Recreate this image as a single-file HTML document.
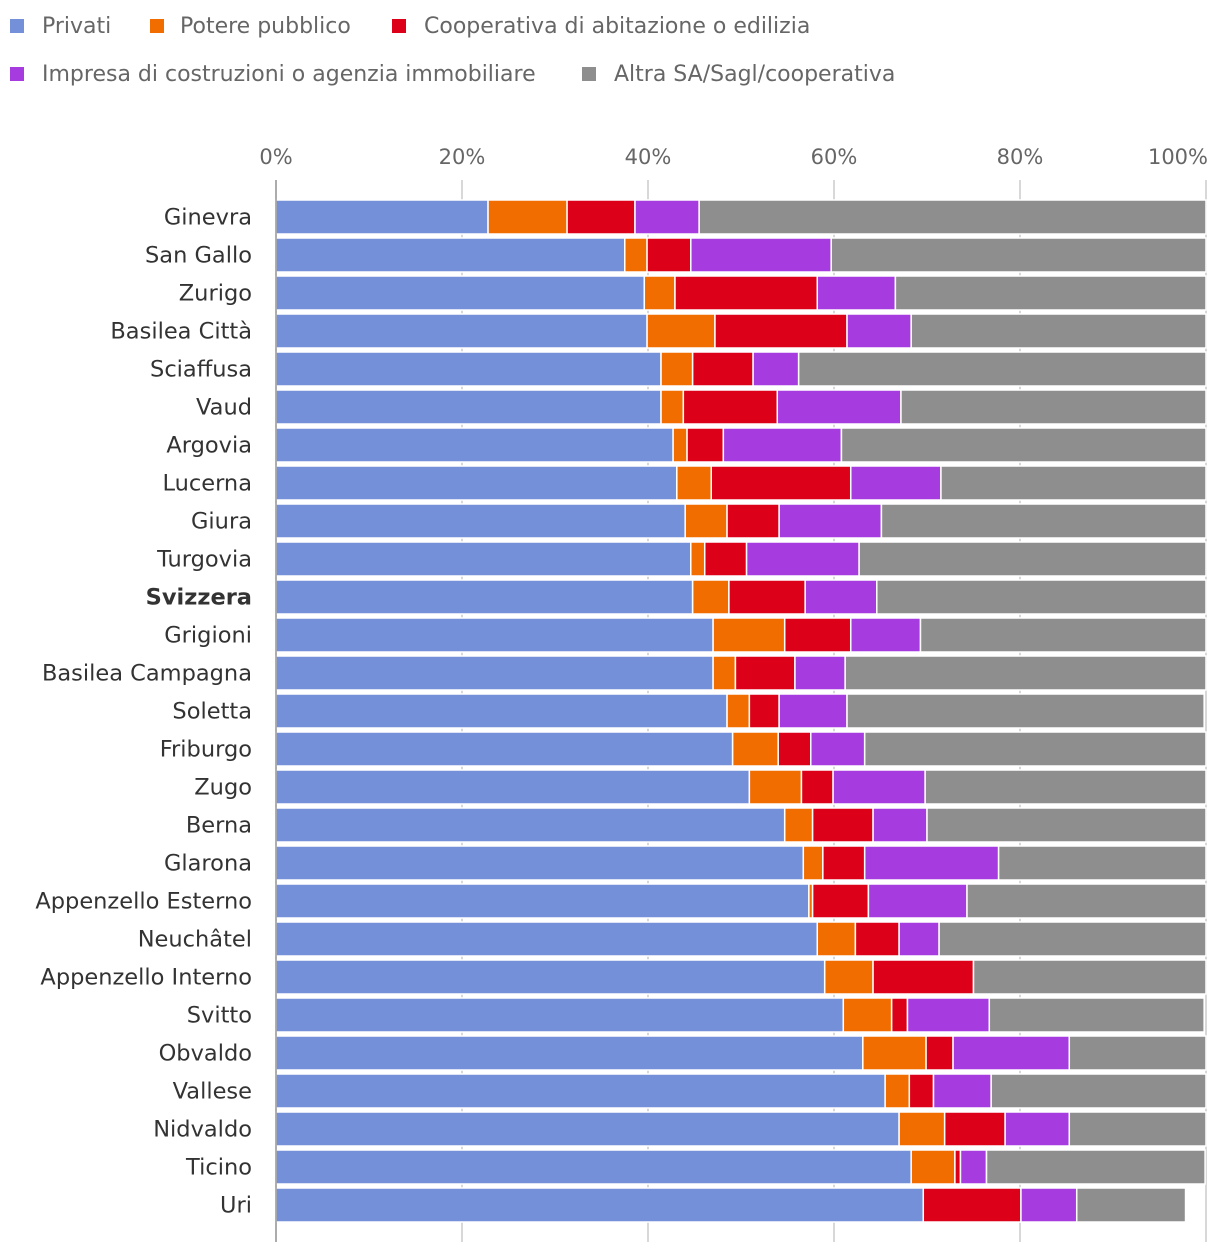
<!DOCTYPE html>
<html><head><meta charset="utf-8"><style>
body{margin:0;background:#fff;}
svg text{font-family:"DejaVu Sans",sans-serif;}
</style></head><body>
<svg id="chart" width="1220" height="1254" xmlns="http://www.w3.org/2000/svg"></svg>
<script>
const categories=["Ginevra","San Gallo","Zurigo","Basilea Città","Sciaffusa","Vaud","Argovia","Lucerna","Giura","Turgovia","Svizzera","Grigioni","Basilea Campagna","Soletta","Friburgo","Zugo","Berna","Glarona","Appenzello Esterno","Neuchâtel","Appenzello Interno","Svitto","Obvaldo","Vallese","Nidvaldo","Ticino","Uri"];
const seriesNames=["Privati","Potere pubblico","Cooperativa di abitazione o edilizia","Impresa di costruzioni o agenzia immobiliare","Altra SA/Sagl/cooperativa"];
const privati=[22.8,37.5,39.6,39.9,41.4,41.4,42.7,43.1,44.0,44.6,44.8,47.0,47.0,48.5,49.1,50.9,54.7,56.7,57.3,58.2,59.0,61.0,63.1,65.5,67.0,68.3,69.6];
const pubblico=[8.5,2.4,3.3,7.3,3.4,2.4,1.5,3.7,4.5,1.5,3.9,7.7,2.4,2.4,4.9,5.6,3.0,2.1,0.4,4.1,5.2,5.2,6.8,2.6,4.9,4.7,0];
const cooperativa=[7.3,4.7,15.3,14.2,6.5,10.1,3.9,15.0,5.6,4.5,8.2,7.1,6.4,3.2,3.5,3.4,6.5,4.5,6.0,4.7,10.8,1.7,2.9,2.6,6.5,0.6,10.5];
const impresa=[6.9,15.1,8.4,6.9,4.9,13.3,12.7,9.7,11.0,12.1,7.7,7.5,5.4,7.3,5.8,9.9,5.8,14.4,10.6,4.3,0,8.8,12.5,6.2,6.9,2.8,6.0];
const altra=[54.5,40.3,33.4,31.7,43.8,32.8,39.2,28.5,34.9,37.3,35.4,30.7,38.8,38.4,36.7,30.2,30.0,22.3,25.7,28.7,25.0,23.1,14.7,23.1,14.7,23.5,11.7];
const ticks=[0,20,40,60,80,100];
const tickLabels=["0%","20%","40%","60%","80%","100%"];
const colors=["#7490d9","#f26d00","#dc0018","#a63ce0","#8e8e8e"];
const svg=document.getElementById('chart');const NS="http://www.w3.org/2000/svg";
const X0=276,W=930,Y0=200,STEP=38,BH=34;
const x=v=>X0+v/100*W;const y=i=>Y0+i*STEP;
function el(t,a,p){const e=document.createElementNS(NS,t);for(const k in a)e.setAttribute(k,a[k]);(p||svg).appendChild(e);return e;}
const legSq=[[10,26],[150,26],[392,26],[10,74],[582,74]];
const legTx=[42,180,424,42,614];
seriesNames.forEach((n,i)=>{const g=el('g',{});


el('rect',{x:legSq[i][0],y:legSq[i][1]-7,width:14,height:14,fill:colors[i]},g);
const t=el('text',{x:legTx[i],y:legSq[i][1]+7,'font-size':22,fill:'#666'},g);t.textContent=n;});
ticks.forEach((v,i)=>{const l=el('line',{x1:x(v),x2:x(v),y1:180,y2:1242,stroke:'#ccc','stroke-width':1.5});


const t=el('text',{x:x(v),y:164,'font-size':21,fill:'#666','text-anchor':v==100?'end':'middle'});
if(v==100)t.setAttribute('x',x(v)+2);
t.textContent=tickLabels[i];

});
const series=[privati,pubblico,cooperativa,impresa,altra];
categories.forEach((c,i)=>{let acc=0;
series.forEach((s,k)=>{const v=s[i];if(v>0){const r=el('rect',{x:x(acc),y:y(i),width:x(acc+v)-x(acc),height:BH,fill:colors[k],stroke:'#fff','stroke-width':1.5});

}acc+=v;});
const t=el('text',{x:252,y:y(i)+BH/2+7.5,'font-size':22.5,fill:'#333','text-anchor':'end','font-weight':c=='Svizzera'?'bold':'normal'});t.textContent=c;

});
el('line',{x1:X0,x2:X0,y1:180,y2:1242,stroke:'#999','stroke-width':1.5});
</script>
</body></html>
